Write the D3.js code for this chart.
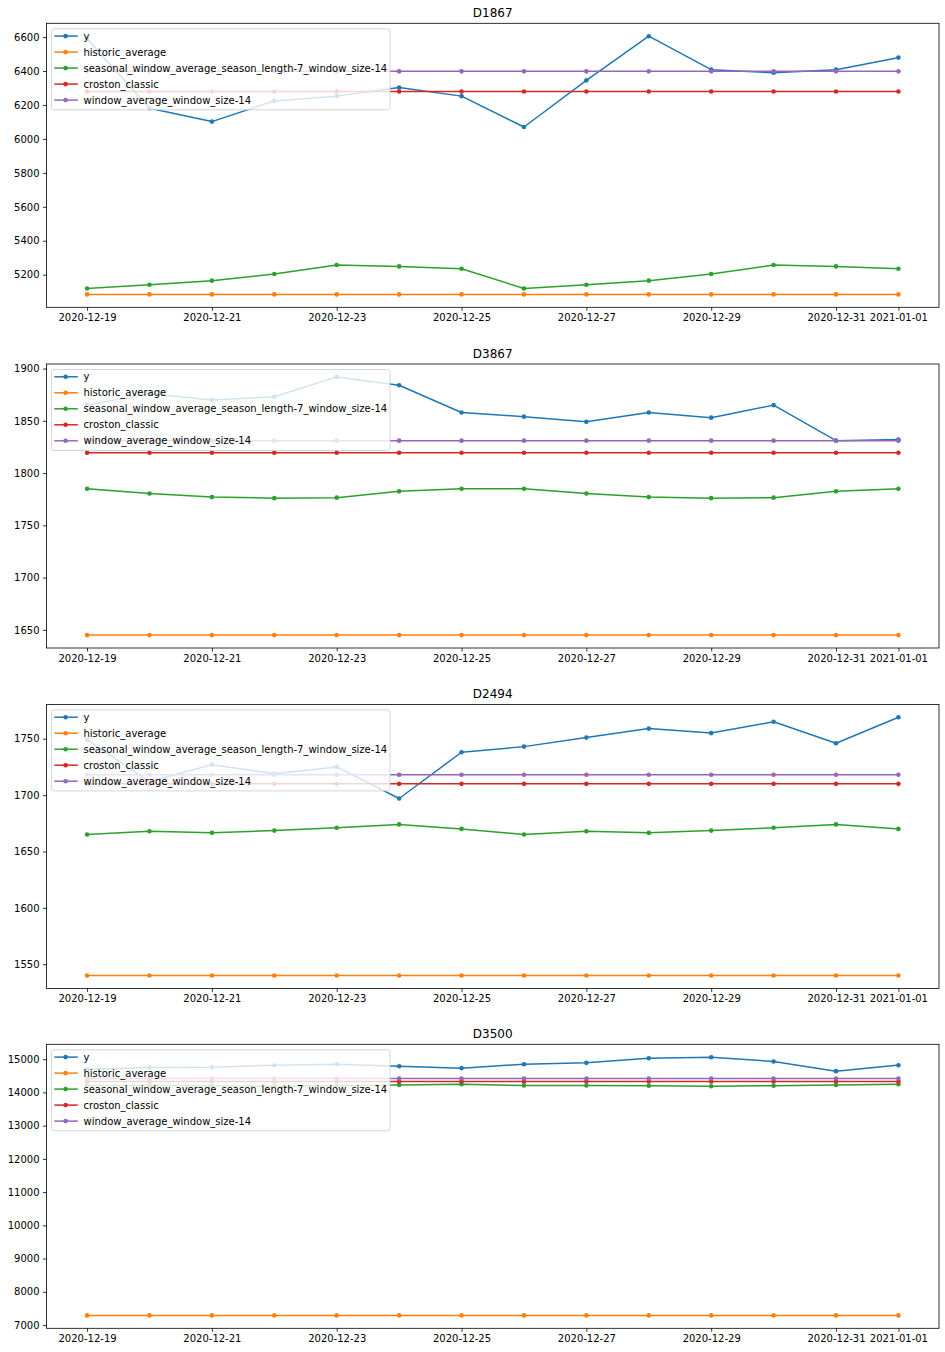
<!DOCTYPE html>
<html>
<head>
<meta charset="utf-8">
<script src="https://cdn.jsdelivr.net/npm/d3@7"></script>
<style>
  html, body { margin: 0; padding: 0; background: #fff; }
  svg { display: block; font-family: "DejaVu Sans", sans-serif; }
</style>
</head>
<body>
<svg id="chart" width="945" height="1352"></svg>
<script>
// ---------------- data ----------------
const dates = ["2020-12-19","2020-12-20","2020-12-21","2020-12-22","2020-12-23","2020-12-24","2020-12-25",
               "2020-12-26","2020-12-27","2020-12-28","2020-12-29","2020-12-30","2020-12-31","2021-01-01"];
const xTickLabels = ["2020-12-19","2020-12-21","2020-12-23","2020-12-25","2020-12-27","2020-12-29","2020-12-31","2021-01-01"];
const seriesNames = ["y","historic_average","seasonal_window_average_season_length-7_window_size-14","croston_classic","window_average_window_size-14"];
const seriesColors = ["#1f77b4","#ff7f0e","#2ca02c","#d62728","#9467bd"];
const panelTitles = ["D1867","D3867","D2494","D3500"];

const d1867_y        = [6590,6181,6102,6224,6252,6303,6252,6070,6345,6605,6408,6390,6408,6479];
const d1867_historic = [5084,5084,5084,5084,5084,5084,5084,5084,5084,5084,5084,5084,5084,5084];
const d1867_seasonal = [5119,5141,5165,5204,5257,5249,5235,5119,5141,5165,5204,5257,5249,5235];
const d1867_croston  = [6279,6279,6279,6279,6279,6279,6279,6279,6279,6279,6279,6279,6279,6279];
const d1867_window   = [6398,6398,6398,6398,6398,6398,6398,6398,6398,6398,6398,6398,6398,6398];
const d1867_yTicks   = [5200,5400,5600,5800,6000,6200,6400,6600];

const d3867_y        = [1865,1876,1870,1873,1892,1884,1858,1854,1849,1858,1853,1865,1831,1832];
const d3867_historic = [1645,1645,1645,1645,1645,1645,1645,1645,1645,1645,1645,1645,1645,1645];
const d3867_seasonal = [1785,1780.5,1777,1776,1776.5,1782.5,1785,1785,1780.5,1777,1776,1776.5,1782.5,1785];
const d3867_croston  = [1819.5,1819.5,1819.5,1819.5,1819.5,1819.5,1819.5,1819.5,1819.5,1819.5,1819.5,1819.5,1819.5,1819.5];
const d3867_window   = [1831,1831,1831,1831,1831,1831,1831,1831,1831,1831,1831,1831,1831,1831];
const d3867_yTicks   = [1650,1700,1750,1800,1850,1900];

const d2494_y        = [1749,1712,1727,1719,1725,1697,1738,1743,1751,1759,1755,1765,1746,1769];
const d2494_historic = [1540,1540,1540,1540,1540,1540,1540,1540,1540,1540,1540,1540,1540,1540];
const d2494_seasonal = [1665,1668,1666.5,1668.5,1671,1674,1670,1665,1668,1666.5,1668.5,1671,1674,1670];
const d2494_croston  = [1710,1710,1710,1710,1710,1710,1710,1710,1710,1710,1710,1710,1710,1710];
const d2494_window   = [1718,1718,1718,1718,1718,1718,1718,1718,1718,1718,1718,1718,1718,1718];
const d2494_yTicks   = [1550,1600,1650,1700,1750];

const d3500_y        = [14690,14750,14760,14820,14850,14790,14730,14850,14890,15030,15060,14930,14640,14820];
const d3500_historic = [7289,7289,7289,7289,7289,7289,7289,7289,7289,7289,7289,7289,7289,7289];
const d3500_seasonal = [14210,14210,14200,14185,14200,14225,14245,14210,14210,14200,14185,14200,14225,14245];
const d3500_croston  = [14330,14330,14330,14330,14330,14330,14330,14330,14330,14330,14330,14330,14330,14330];
const d3500_window   = [14420,14420,14420,14420,14420,14420,14420,14420,14420,14420,14420,14420,14420,14420];
const d3500_yTicks   = [7000,8000,9000,10000,11000,12000,13000,14000,15000];

const panels = [
  {title: panelTitles[0], series: [d1867_y,d1867_historic,d1867_seasonal,d1867_croston,d1867_window], yTicks: d1867_yTicks},
  {title: panelTitles[1], series: [d3867_y,d3867_historic,d3867_seasonal,d3867_croston,d3867_window], yTicks: d3867_yTicks},
  {title: panelTitles[2], series: [d2494_y,d2494_historic,d2494_seasonal,d2494_croston,d2494_window], yTicks: d2494_yTicks},
  {title: panelTitles[3], series: [d3500_y,d3500_historic,d3500_seasonal,d3500_croston,d3500_window], yTicks: d3500_yTicks}
];

// ---------------- layout ----------------
const svg = d3.select("#chart");
const parse = d3.utcParse("%Y-%m-%d");
const fmt = d3.utcFormat("%Y-%m-%d");
const dateObjs = dates.map(parse);
const axLeft = 46.5, axRight = 939;
const axTops = [23.3, 364, 704.4, 1044.3];
const axH = 284;

function padDomain(lo, hi) { const p = (hi - lo) * 0.05; return [lo - p, hi + p]; }

const xExt = d3.extent(dateObjs);
const xPad = (xExt[1] - xExt[0]) * 0.05;
const x = d3.scaleUtc().domain([new Date(+xExt[0] - xPad), new Date(+xExt[1] + xPad)]).range([axLeft, axRight]);

panels.forEach((p, i) => {
  const top = axTops[i];
  const all = p.series.flat();
  const y = d3.scaleLinear().domain(padDomain(d3.min(all), d3.max(all))).range([top + axH, top]);
  const g = svg.append("g");

  // lines
  p.series.forEach((vals, si) => {
    const pts = vals.map((v, k) => [dateObjs[k], v]);
    g.append("path")
      .attr("d", d3.line().x(d => x(d[0])).y(d => y(d[1]))(pts))
      .attr("fill", "none").attr("stroke", seriesColors[si]).attr("stroke-width", 1.5)
      .attr("stroke-linejoin", "round").attr("stroke-linecap", "square");
    g.selectAll(null).data(pts).enter().append("circle")
      .attr("cx", d => x(d[0])).attr("cy", d => y(d[1])).attr("r", 2.3)
      .attr("fill", seriesColors[si]);
  });

  // axes
  const xAxis = d3.axisBottom(x)
    .tickValues(xTickLabels.map(parse))
    .tickFormat(fmt).tickSizeOuter(0).tickSize(3.5).tickPadding(3.5);
  const gx = g.append("g").attr("transform", `translate(0,${top + axH})`).call(xAxis);
  const yAxis = d3.axisLeft(y).tickValues(p.yTicks).tickFormat(d3.format("d"))
    .tickSizeOuter(0).tickSize(3.5).tickPadding(3.5);
  const gy = g.append("g").attr("transform", `translate(${axLeft},0)`).call(yAxis);
  [gx, gy].forEach(a => {
    a.select(".domain").remove();
    a.selectAll(".tick line").attr("stroke", "#000").attr("stroke-width", 0.8);
    a.selectAll(".tick text").attr("fill", "#000").attr("font-size", 10)
      .attr("font-family", "DejaVu Sans, sans-serif");
  });

  // frame
  g.append("rect").attr("x", axLeft).attr("y", top).attr("width", axRight - axLeft).attr("height", axH)
    .attr("fill", "none").attr("stroke", "#000").attr("stroke-width", 0.8);

  // title
  g.append("text").attr("x", (axLeft + axRight) / 2).attr("y", top - 6)
    .attr("text-anchor", "middle").attr("font-size", 12).attr("fill", "#000").text(p.title);

  // legend
  const lg = g.append("g").attr("transform", `translate(${axLeft + 5},${top + 5.5})`);
  lg.append("rect").attr("x", 0).attr("y", 0).attr("width", 338.5).attr("height", 81)
    .attr("rx", 2.5).attr("fill", "#fff").attr("fill-opacity", 0.8)
    .attr("stroke", "#cccccc").attr("stroke-width", 0.8);
  seriesNames.forEach((name, si) => {
    const cy = 7.3 + si * 16;
    lg.append("line").attr("x1", 2.8).attr("x2", 26.3).attr("y1", cy).attr("y2", cy)
      .attr("stroke", seriesColors[si]).attr("stroke-width", 1.5);
    lg.append("circle").attr("cx", 14.1).attr("cy", cy).attr("r", 2.3).attr("fill", seriesColors[si]);
    lg.append("text").attr("x", 32).attr("y", cy + 3.6).attr("font-size", 10).attr("fill", "#000").text(name);
  });
});
</script>
</body>
</html>
